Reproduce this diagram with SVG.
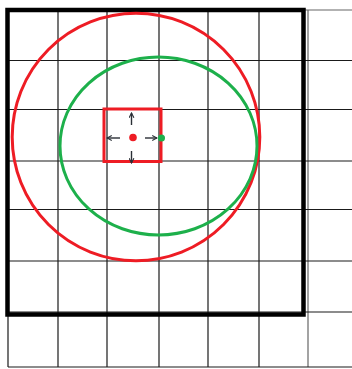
<svg xmlns="http://www.w3.org/2000/svg" width="352" height="369" viewBox="0 0 352 369">
<defs>
<style>
.grid line{stroke:#1a1a1a;stroke-width:1.2}
.grid line.light{stroke:#666}
.arrow{stroke:#2a2f36;stroke-width:1.4;fill:none;marker-end:url(#head)}
</style>
<marker id="head" viewBox="0 0 10 10" refX="9" refY="5" markerWidth="6" markerHeight="6" markerUnits="userSpaceOnUse" orient="auto">
<path d="M1,1 L9,5 L1,9" fill="none" stroke="#2a2f36" stroke-width="1.8"/>
</marker>
</defs>
<rect width="352" height="369" fill="#fff"/>
<g id="grid" class="grid">
<line x1="8" y1="10" x2="8" y2="367"/>
<line x1="58" y1="10" x2="58" y2="367"/>
<line x1="107" y1="10" x2="107" y2="367"/>
<line x1="159" y1="10" x2="159" y2="367"/>
<line x1="208" y1="10" x2="208" y2="367"/>
<line x1="259" y1="10" x2="259" y2="367"/>
<line x1="308" y1="10" x2="308" y2="367" class="light"/>
<line x1="8" y1="10" x2="352" y2="10" class="light"/>
<line x1="8" y1="60.5" x2="352" y2="60.5"/>
<line x1="8" y1="109.5" x2="352" y2="109.5"/>
<line x1="8" y1="161" x2="352" y2="161"/>
<line x1="8" y1="209.5" x2="352" y2="209.5"/>
<line x1="8" y1="261" x2="352" y2="261"/>
<line x1="8" y1="312" x2="352" y2="312"/>
<line x1="8" y1="367" x2="352" y2="367"/>
</g>
<g id="border">
<rect x="7.5" y="10" width="296" height="304.5" fill="none" stroke="#000" stroke-width="4.5"/>
</g>
<g id="red-circle">
<circle cx="136" cy="137" r="123.8" fill="none" stroke="#ee1c24" stroke-width="3"/>
</g>
<g id="green-ellipse">
<ellipse cx="158.5" cy="146" rx="98.5" ry="89" fill="none" stroke="#1db04b" stroke-width="3"/>
</g>
<g id="red-square">
<rect x="104" y="109" width="57" height="52.5" fill="none" stroke="#ee1c24" stroke-width="3"/>
</g>
<g id="connectors">
<line class="arrow" x1="131.5" y1="125" x2="131.5" y2="113"/>
<line class="arrow" x1="131.5" y1="151" x2="131.5" y2="163"/>
<line class="arrow" x1="120" y1="138" x2="107" y2="138"/>
<line class="arrow" x1="145" y1="138" x2="157" y2="138"/>
</g>
<g id="red-dot"><circle cx="133" cy="137.5" r="3.8" fill="#ee1c24"/></g>
<g id="green-dot"><circle cx="161.5" cy="138" r="3.5" fill="#1db04b"/></g>
</svg>
